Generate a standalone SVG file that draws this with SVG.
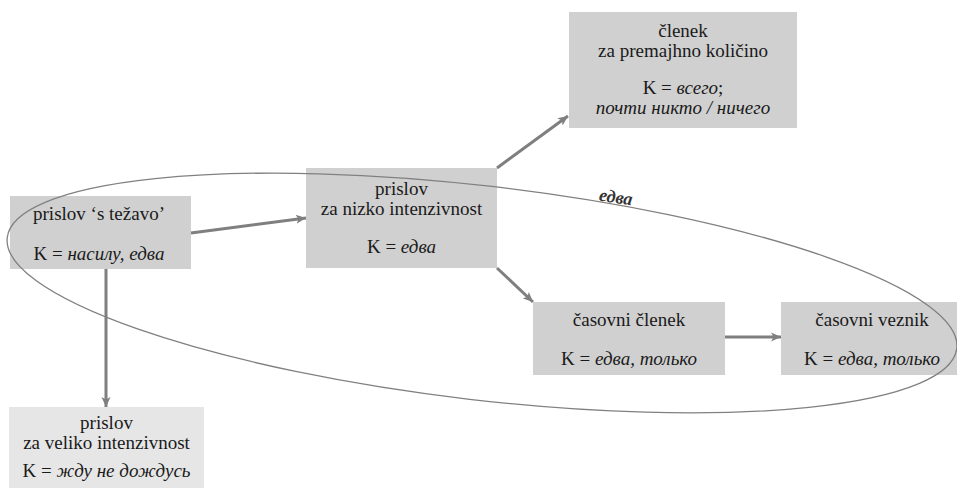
<svg xmlns="http://www.w3.org/2000/svg" width="957" height="488" viewBox="0 0 957 488">
  <style>
    .box { fill: #d0d0d0; }
    .box.light { fill: #e6e6e6; }
    .t { font-family: "Liberation Serif", "Times New Roman", "DejaVu Serif", serif; font-size: 19px; fill: #1a1a1a; text-anchor: middle; }
    .i { font-style: italic; }
    .edge { stroke: #7f7f7f; stroke-width: 3; fill: none; }
    .ring { stroke: #808080; stroke-width: 1.3; fill: none; }
    .lbl { font-family: "Liberation Serif", "Times New Roman", "DejaVu Serif", serif; font-size: 18px; font-style: italic; font-weight: bold; fill: #333333; }
  </style>
  <defs>
    <marker id="arrow" markerUnits="userSpaceOnUse" markerWidth="12" markerHeight="10" refX="10" refY="5" orient="auto">
      <path d="M0,0.5 L10,5 L0,9.5 L2.5,5 Z" fill="#7f7f7f"/>
    </marker>
  </defs>

  <rect width="957" height="488" fill="#ffffff"/>

  <!-- nodes -->
  <g id="n-stezavo">
    <rect class="box" x="10" y="196" width="181" height="73"/>
    <text class="t" x="99" y="220">prislov ʻs težavo’</text>
    <text class="t" x="99" y="260">K = <tspan class="i">насилу, едва</tspan></text>
  </g>

  <g id="n-nizko">
    <rect class="box" x="306" y="168" width="191" height="100"/>
    <text class="t" x="401.5" y="195">prislov</text>
    <text class="t" x="401.5" y="215">za nizko intenzivnost</text>
    <text class="t" x="401.5" y="253">K = <tspan class="i">едва</tspan></text>
  </g>

  <g id="n-premajhno">
    <rect class="box" x="569" y="12" width="228" height="116"/>
    <text class="t" x="683" y="37">členek</text>
    <text class="t" x="683" y="57">za premajhno količino</text>
    <text class="t" x="683" y="94">K = <tspan class="i">всего</tspan>;</text>
    <text class="t i" x="683" y="114">почти никто / ничего</text>
  </g>

  <g id="n-clenek">
    <rect class="box" x="533" y="302" width="192" height="73"/>
    <text class="t" x="629" y="326">časovni členek</text>
    <text class="t" x="629" y="365">K = <tspan class="i">едва, только</tspan></text>
  </g>

  <g id="n-veznik">
    <rect class="box" x="781" y="302" width="176" height="73"/>
    <text class="t" x="872" y="326">časovni veznik</text>
    <text class="t" x="872" y="365">K = <tspan class="i">едва, только</tspan></text>
  </g>

  <g id="n-veliko">
    <rect class="box light" x="9" y="407" width="195" height="81"/>
    <text class="t" x="106.5" y="429">prislov</text>
    <text class="t" x="106.5" y="449">za veliko intenzivnost</text>
    <text class="t" x="106.5" y="477">K = <tspan class="i">жду не дождусь</tspan></text>
  </g>

  <!-- connectors -->
  <g id="connectors">
    <line class="edge" x1="191" y1="233" x2="306" y2="218" marker-end="url(#arrow)"/>
    <line class="edge" x1="106" y1="269" x2="106" y2="407" stroke-width="2.5" marker-end="url(#arrow)"/>
    <line class="edge" x1="497" y1="168" x2="568" y2="116" marker-end="url(#arrow)"/>
    <line class="edge" x1="497" y1="268" x2="533" y2="302" marker-end="url(#arrow)"/>
    <line class="edge" x1="725" y1="337" x2="781" y2="337" marker-end="url(#arrow)"/>
  </g>

  <!-- grouping ring with its label -->
  <g id="ring">
    <ellipse class="ring" cx="482" cy="293" rx="478" ry="107" transform="rotate(6.66 482 293)"/>
    <text class="lbl" x="616" y="203" text-anchor="middle" transform="rotate(8 616 197)">едва</text>
  </g>
</svg>
